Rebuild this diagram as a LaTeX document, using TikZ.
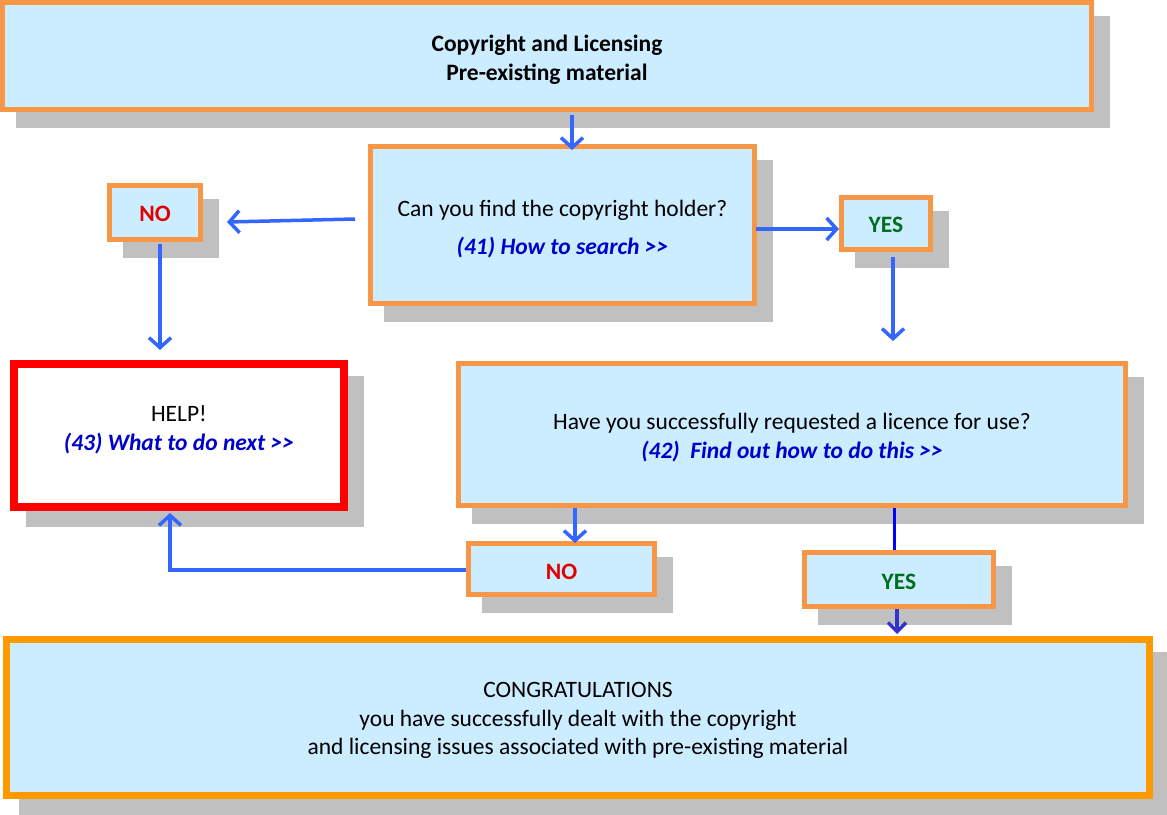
\documentclass[tikz,border=0pt]{standalone}
\usepackage{fontspec}
\setmainfont{Carlito}
\usetikzlibrary{arrows.meta,calc,shadows}

\definecolor{boxfill}{RGB}{204,236,255}
\definecolor{boxline}{RGB}{247,150,70}
\definecolor{endline}{RGB}{255,153,0}
\definecolor{helpline}{RGB}{255,0,0}
\definecolor{shadowgray}{RGB}{192,192,192}
\definecolor{flowblue}{RGB}{51,102,255}
\definecolor{darkflow}{RGB}{0,0,255}
\definecolor{endflow}{RGB}{51,51,204}
\definecolor{linkblue}{RGB}{0,0,204}
\definecolor{noRed}{RGB}{224,0,0}
\definecolor{yesGreen}{RGB}{0,110,30}

% ">>" typed with a kern so the font mapping keeps two signs
\newcommand\more{>\kern0pt>}
\newcommand\linktext[1]{{\color{linkblue}\bfseries\itshape #1}}
% centred lines, moved vertically without changing the box size
\newcommand\lines[2]{\raisebox{#1}[\height][\depth]{\begin{tabular}{@{}c@{}}#2\end{tabular}}}

\tikzset{
  x=1pt, y=-1pt,
  boxfont/.style={font=\fontsize{23.5}{28.5}\selectfont},
  shade box/.style={general shadow={fill=shadowgray, draw=shadowgray, line width=#1,
      shadow xshift=15.5pt, shadow yshift=-15.5pt}},
  flowbox/.style={shade box=5pt, draw=boxline, fill=boxfill, line width=5pt,
      inner sep=0pt, align=center, boxfont},
  answer/.style={flowbox, font=\fontsize{23.5}{28.5}\selectfont\bfseries},
  helpbox/.style={shade box=8pt, draw=helpline, fill=white, line width=8pt,
      inner sep=0pt, align=center, boxfont},
  endbox/.style={shade box=7pt, draw=endline, fill=boxfill, line width=7pt,
      inner sep=0pt, align=center, boxfont},
  flow/.style={draw=flowblue, line width=3.5pt,
      -{Straight Barb[length=10pt, width=22pt]}},
}

\begin{document}
\begin{tikzpicture}
\useasboundingbox (0,0) rectangle (1167,814);

% boxes
\node[flowbox, minimum width=1089pt, minimum height=107pt,
      font=\fontsize{23.5}{28.5}\selectfont\bfseries] (title) at (547,56)
  {\lines{-4.5pt}{Copyright and Licensing\\Pre-existing material}};

\node[flowbox, minimum width=384pt, minimum height=157pt] (find) at (562.5,225)
  {\lines{-4.5pt}{Can you find the copyright holder?\\[9.5pt]\linktext{(41) How to search \more}}};

\node[answer, text=noRed, minimum width=91pt, minimum height=54pt] (no1) at (155,212.5)
  {\lines{-3pt}{NO}};
\node[answer, text=yesGreen, minimum width=89pt, minimum height=52pt] (yes1) at (886,223.5)
  {\lines{-3pt}{YES}};

\node[helpbox, minimum width=330pt, minimum height=143pt] (help) at (179,435.5)
  {\lines{5pt}{HELP!\\\linktext{(43) What to do next \more}}};

\node[flowbox, minimum width=667pt, minimum height=142pt] (licence) at (792,434.5)
  {\lines{-4pt}{Have you successfully requested a licence for use?\\\linktext{(42)\ \ Find out how to do this \more}}};

\node[answer, text=noRed, minimum width=186pt, minimum height=51pt] (no2) at (561.5,569)
  {\lines{-5pt}{NO}};
\node[answer, text=yesGreen, minimum width=189pt, minimum height=54pt] (yes2) at (899,579.5)
  {\lines{-4pt}{YES}};

\node[endbox, minimum width=1143pt, minimum height=156pt] (done) at (578,717.5)
  {\lines{-3pt}{CONGRATULATIONS\\you have successfully dealt with the copyright\\and licensing issues associated with pre-existing material}};

% connectors
\draw[flow] ($(title.south)+(25,3)$) -- ($(find.north)+(9.5,6)$);
\draw[flow] ($(find.west)+(-13,-6)$) -- ($(no1.east)+(24,9.5)$);
\draw[flow] ($(no1.south)+(5,2)$) -- ($(help.north)+(-19,-10)$);
\draw[flow] ($(find.east)+(-1,4)$) -- ($(yes1.west)+(0,5.5)$);
\draw[flow] ($(yes1.south)+(7,5)$) -- ($(licence.north)+(101,-20)$);
\draw[flow] ($(licence.south)+(-217,0)$) -- ($(no2.north)+(13.5,2)$);
\draw[flow] ($(no2.west)+(0,1)$) -| ($(help.south)+(-9,2)$);
\draw[draw=darkflow, line width=3pt] ($(licence.south)+(102,0)$) -- ($(yes2.north)+(-5,0)$);
\draw[flow, draw=endflow, -{Straight Barb[length=9pt, width=18pt]}]
  ($(yes2.south)+(-2,0)$) -- ($(done.north)+(319,-2)$);
\end{tikzpicture}
\end{document}
